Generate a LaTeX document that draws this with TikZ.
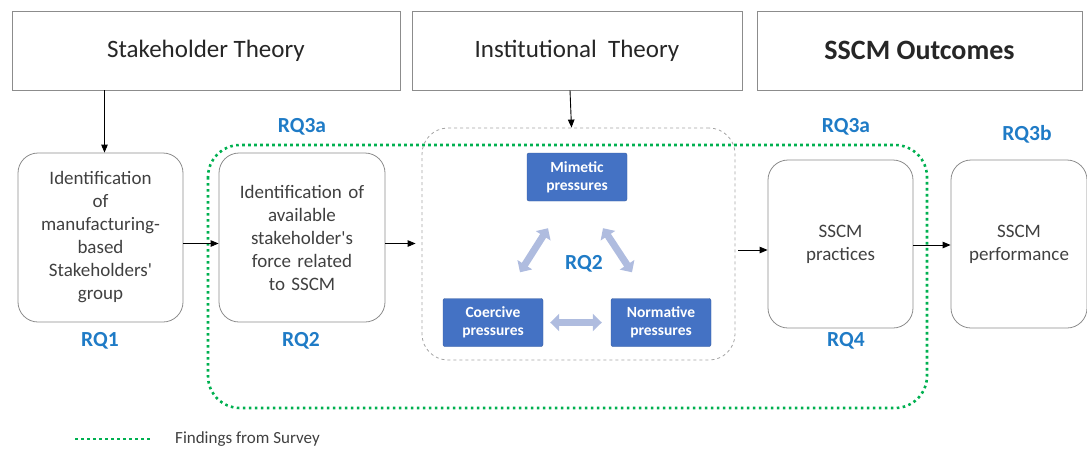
\documentclass[tikz,border=0pt]{standalone}
\usepackage{fontspec}
\setmainfont{Carlito}
\usetikzlibrary{arrows.meta}
\definecolor{rqblue}{HTML}{1F7BC6}
\definecolor{pblue}{HTML}{4472C4}
\definecolor{parrow}{HTML}{AFBCDF}
\definecolor{surveygreen}{HTML}{00B050}
\definecolor{boxline}{HTML}{8C8C8C}
\definecolor{bodytext}{HTML}{404040}
\begin{document}
\begin{tikzpicture}[x=1pt,y=-1pt,
  theory/.style={draw=boxline, line width=0.8pt, fill=white, minimum height=79pt,
    inner sep=0pt, text=black!85, font=\fontsize{25}{30}\selectfont},
  stepbox/.style={draw=boxline, line width=0.8pt, rounded corners=20pt, inner sep=4pt,
    align=center, text=bodytext, font=\fontsize{19}{23}\selectfont},
  pbox/.style={fill=pblue, draw=pblue!80!black, line width=0.4pt, rounded corners=2pt,
    minimum width=100pt, minimum height=48pt, inner sep=0pt, align=center, text=white,
    font=\bfseries\fontsize{15.5}{18}\selectfont},
  rq/.style={text=rqblue, font=\bfseries\fontsize{21.5}{24}\selectfont},
  flow/.style={-{Triangle[length=8pt,width=6.5pt]}, line width=0.9pt, black},
  pressure/.style={{Triangle[length=9pt,width=17pt]}-{Triangle[length=9pt,width=17pt]},
    line width=7pt, parrow},
  survey/.style={surveygreen, line width=2.6pt, dash pattern=on 2.6pt off 3.4pt}]
\useasboundingbox (0,0) rectangle (1087,448);

% theory headers
\node[theory, minimum width=388pt] (stake) at (206,50.5) {Stakeholder Theory};
\node[theory, minimum width=330pt] (inst) at (577,50.5) {Institutional\ \ Theory};
\node[theory, minimum width=325pt, font=\bfseries\fontsize{28}{32}\selectfont] (outc) at (919.5,50.5) {SSCM Outcomes};

% survey findings boundary
\draw[survey, rounded corners=32pt] (208,145) rectangle (927,408);

% process boxes
\node[stepbox, minimum width=165pt, minimum height=169pt, text width=155pt] (b1) at (100.5,237.5)
  {Identification\\of\\manufacturing-\\based\\Stakeholders\textquotesingle\\group};
\node[stepbox, minimum width=166pt, minimum height=169pt, text width=155pt] (b2) at (302,237.5)
  {Identification of\\available\\stakeholder\textquotesingle s\\force related\\to SSCM};
\node[stepbox, minimum width=145pt, minimum height=168pt, text width=135pt] (b3) at (840.5,244)
  {SSCM\\practices};
\node[stepbox, minimum width=134pt, minimum height=168pt, text width=128pt] (b4) at (1019,244)
  {SSCM\\performance};

% institutional pressures group
\node[draw=boxline!80, dashed, line width=0.8pt, rounded corners=26pt, minimum width=313pt,
  minimum height=232pt, inner sep=0pt] (grp) at (578.5,244) {};
\node[pbox] (mim) at (577,177) {Mimetic\\pressures};
\node[pbox] (coe) at (493,322.5) {Coercive\\pressures};
\node[pbox] (nor) at (661,322.5) {Normative\\pressures};
\node[rq] (rqin) at (584,264) {RQ2};
\draw[pressure] ([shift={(-29pt,-27pt)}]mim.south) -- ([shift={(27pt,26pt)}]coe.north);
\draw[pressure] ([shift={(26pt,-27pt)}]mim.south) -- ([shift={(-29pt,26pt)}]nor.north);
\draw[pressure] ([xshift=7pt]coe.east) -- ([xshift=-9pt]nor.west);

% connectors
\draw[flow] ([xshift=4pt]stake.south -| b1.north) -- ([xshift=4pt]b1.north);
\draw[flow] ([xshift=-7pt]inst.south) -- ([xshift=-7pt]grp.north);
\draw[flow] ([yshift=-6pt]b1.east) -- ([yshift=-6pt]b2.west);
\draw[flow, shorten >=6pt] ([yshift=-6pt]b2.east) -- ([yshift=-6pt]b2.east -| grp.west);
\draw[flow, shorten <=3pt] ([yshift=-6pt]grp.east) -- ([yshift=-6pt]b3.west);
\draw[flow] ([yshift=-1pt]b3.east) -- ([yshift=-1pt]b4.west);

% research question labels
\node[rq] (rq1) at (100,341) {RQ1};
\node[rq] (rq2) at (301,341) {RQ2};
\node[rq] (rq3a) at (302,127) {RQ3a};
\node[rq] (rq3b) at (846,127) {RQ3a};
\node[rq] (rq3c) at (1027,134) {RQ3b};
\node[rq] (rq4) at (846,341) {RQ4};

% legend
\coordinate (lg1) at (75,439);
\coordinate (lg2) at (150,439);
\draw[survey] (lg1) -- (lg2);
\node[anchor=base west, inner sep=0pt, text=bodytext, font=\fontsize{17}{20}\selectfont] (lgt) at (175,443) {Findings from Survey};
\end{tikzpicture}
\end{document}
